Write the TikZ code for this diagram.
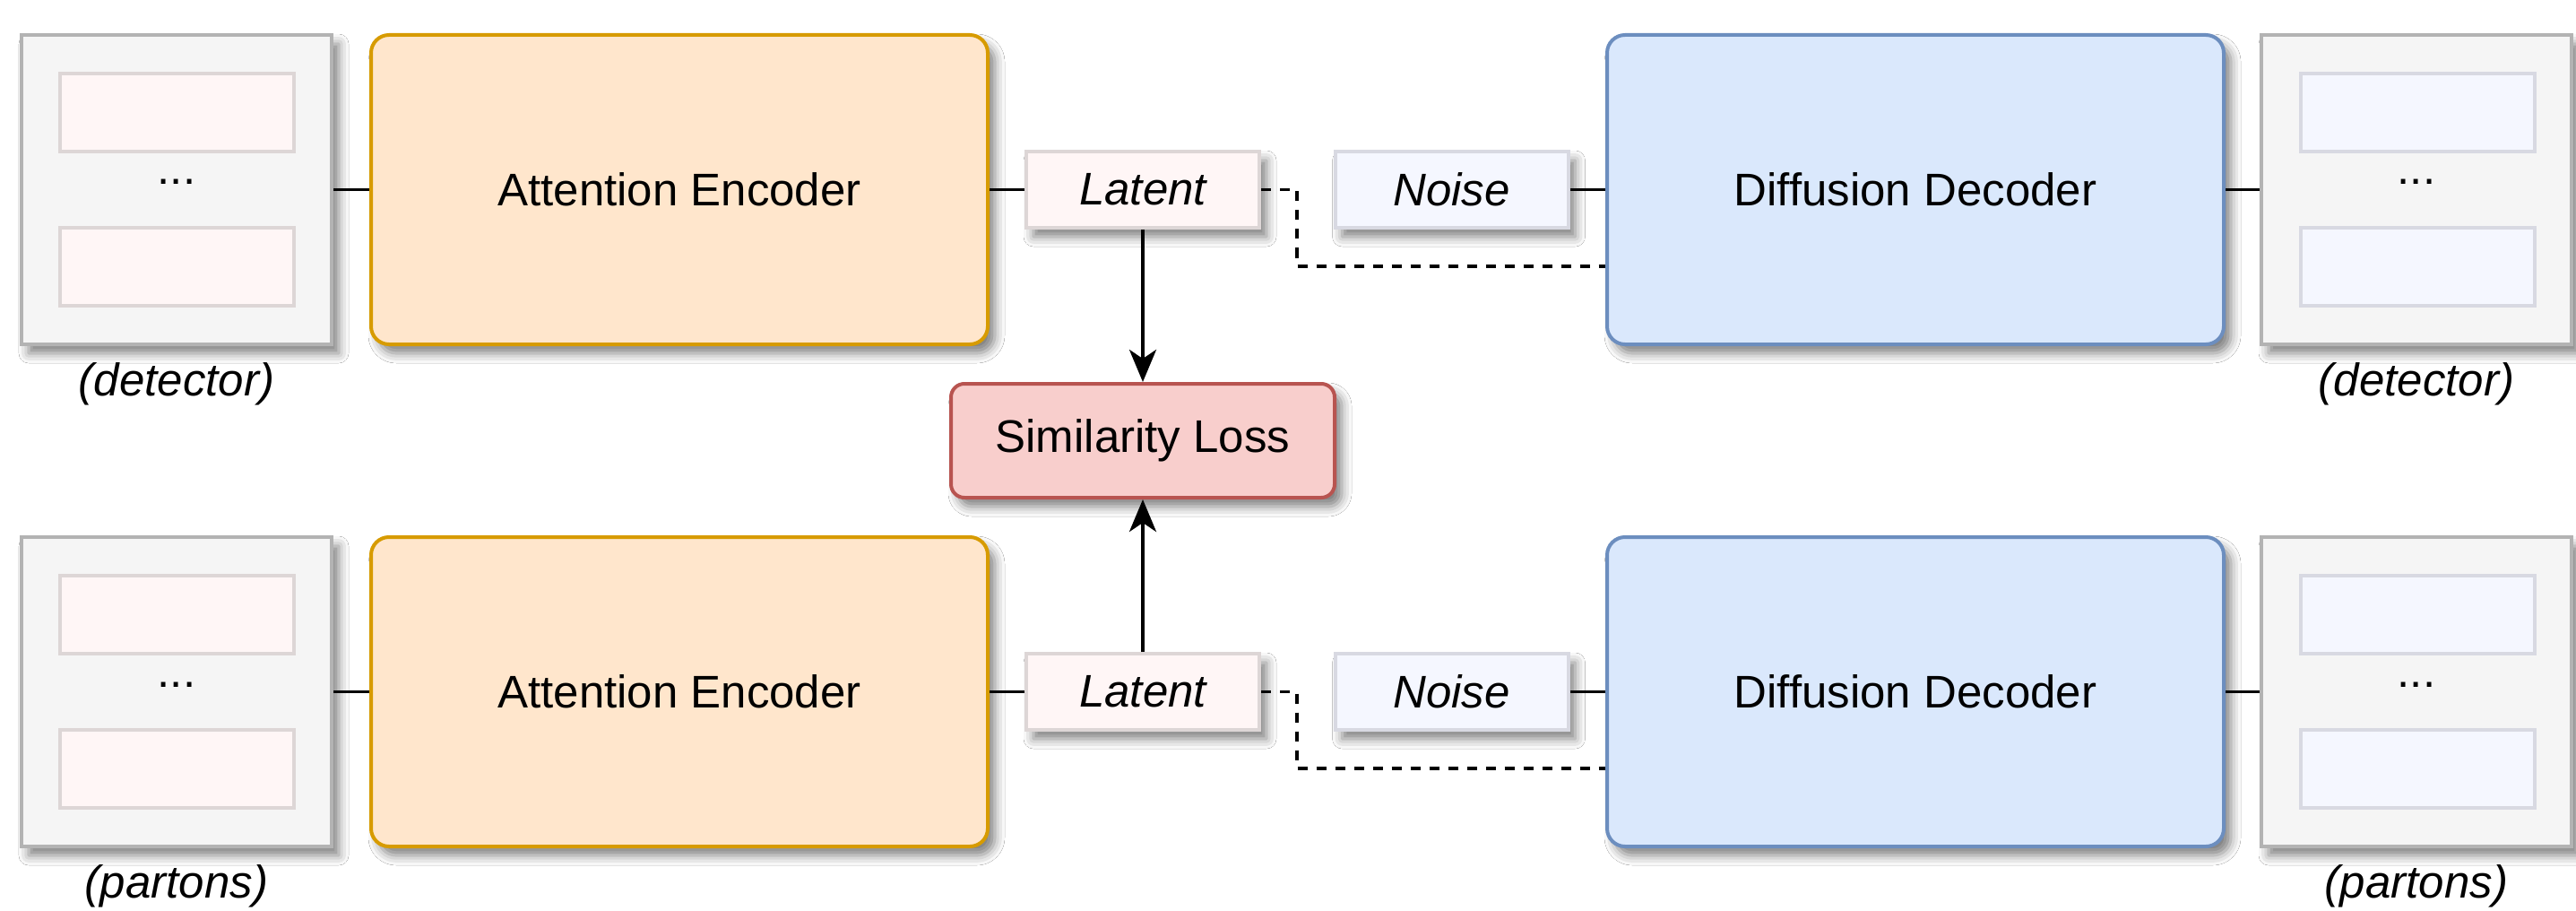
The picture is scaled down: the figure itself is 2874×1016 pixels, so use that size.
\documentclass[tikz,border=0pt]{standalone}
\usepackage{fontspec}
\setmainfont{Liberation Sans}
\usetikzlibrary{arrows.meta,shadows.blur}
\definecolor{boxfill}{HTML}{F5F5F5}
\definecolor{boxdraw}{HTML}{B3B3B3}
\definecolor{pinkfill}{HTML}{FFF6F6}
\definecolor{pinkdraw}{HTML}{DDD6D6}
\definecolor{bluefill}{HTML}{F5F7FF}
\definecolor{bluedraw}{HTML}{D8D9E2}
\definecolor{encfill}{HTML}{FFE6CC}
\definecolor{encdraw}{HTML}{D79B00}
\definecolor{decfill}{HTML}{DAE8FC}
\definecolor{decdraw}{HTML}{6C8EBF}
\definecolor{lossfill}{HTML}{F8CECC}
\definecolor{lossdraw}{HTML}{B85450}
\definecolor{shadowc}{HTML}{6A7098}
\begin{document}
\begin{tikzpicture}[x=1pt,y=-1pt,
  every node/.style={font=\fontsize{51}{60}\selectfont, inner sep=0pt, text=black},
  shad/.style={blur shadow={shadow xshift=8pt,shadow yshift=-10pt,shadow blur radius=11pt,shadow opacity=50, fill=shadowc}},
  outerbox/.style={shad, draw=boxdraw, fill=boxfill, line width=4pt, minimum width=346pt, minimum height=345pt},
  innerpink/.style={draw=pinkdraw, fill=pinkfill, line width=4pt, minimum width=261pt, minimum height=87pt},
  innerblue/.style={draw=bluedraw, fill=bluefill, line width=4pt, minimum width=261pt, minimum height=87pt},
  encbox/.style={shad, draw=encdraw, fill=encfill, line width=4pt, rounded corners=20pt, minimum width=688pt, minimum height=345pt},
  decbox/.style={shad, draw=decdraw, fill=decfill, line width=4pt, rounded corners=20pt, minimum width=688pt, minimum height=345pt},
  latbox/.style={shad, draw=pinkdraw, fill=pinkfill, line width=4pt, minimum width=260pt, minimum height=85pt, font=\fontsize{51}{60}\selectfont\itshape},
  noisebox/.style={shad, draw=bluedraw, fill=bluefill, line width=4pt, minimum width=260pt, minimum height=85pt, font=\fontsize{51}{60}\selectfont\itshape},
  lossbox/.style={shad, draw=lossdraw, fill=lossfill, line width=4pt, rounded corners=15pt, minimum width=428pt, minimum height=127pt},
  lbl/.style={anchor=base, font=\fontsize{51}{60}\selectfont\itshape},
  conn/.style={draw=black, line width=3.8pt},
  dconn/.style={draw=black, line width=3.8pt, dash pattern=on 11pt off 10pt},
  arr/.style={draw=black, line width=3.8pt, -{Stealth[length=36pt, width=30pt, inset=10pt]}}
]
\useasboundingbox (0,0) rectangle (2874,1016);
\fill[white] (0,0) rectangle (2874,1016);

% ---------- top row ----------
\node[outerbox] (dL1) at (197,211.5) {};
\node[innerpink] (dL1a) at (197.5,125.5) {};
\node[innerpink] (dL1b) at (197.5,297.5) {};
\node[anchor=base] (dL1d) at (197,206) {...};
\node[lbl] (tL1) at (197,441) {(detector)};

\node[encbox] (enc1) at (758,211.5) {Attention Encoder};
\node[latbox] (lat1) at (1275,211.5) {Latent};
\node[noisebox] (noi1) at (1619.5,211.5) {Noise};
\node[decbox] (dec1) at (2137,211.5) {Diffusion Decoder};

\node[outerbox] (dR1) at (2696,211.5) {};
\node[innerblue] (dR1a) at (2697.5,125.5) {};
\node[innerblue] (dR1b) at (2697.5,297.5) {};
\node[anchor=base] (dR1d) at (2696,206) {...};
\node[lbl] (tR1) at (2696,441) {(detector)};

% ---------- loss ----------
\node[lossbox] (loss) at (1275,491.5) {Similarity Loss};

% ---------- bottom row ----------
\node[outerbox] (dL2) at (197,771.5) {};
\node[innerpink] (dL2a) at (197.5,685.5) {};
\node[innerpink] (dL2b) at (197.5,857.5) {};
\node[anchor=base] (dL2d) at (197,766) {...};
\node[lbl] (tL2) at (197,1001) {(partons)};

\node[encbox] (enc2) at (758,771.5) {Attention Encoder};
\node[latbox] (lat2) at (1275,771.5) {Latent};
\node[noisebox] (noi2) at (1619.5,771.5) {Noise};
\node[decbox] (dec2) at (2137,771.5) {Diffusion Decoder};

\node[outerbox] (dR2) at (2696,771.5) {};
\node[innerblue] (dR2a) at (2697.5,685.5) {};
\node[innerblue] (dR2b) at (2697.5,857.5) {};
\node[anchor=base] (dR2d) at (2696,766) {...};
\node[lbl] (tR2) at (2696,1001) {(partons)};

% ---------- connectors ----------
\coordinate (k1) at (1447,297);
\coordinate (k2) at (1447,857);

\draw[conn] (dL1.east) -- (enc1.west);
\draw[conn] (enc1.east) -- (lat1.west);
\draw[conn] (noi1.east) -- (dec1.west);
\draw[conn] (dec1.east) -- (dR1.west);
\draw[dconn] (lat1.east) -| (k1) -- (dec1.west |- k1);

\draw[conn] (dL2.east) -- (enc2.west);
\draw[conn] (enc2.east) -- (lat2.west);
\draw[conn] (noi2.east) -- (dec2.west);
\draw[conn] (dec2.east) -- (dR2.west);
\draw[dconn] (lat2.east) -| (k2) -- (dec2.west |- k2);

\draw[arr] (lat1.south) -- (loss.north);
\draw[arr] (lat2.north) -- (loss.south);
\end{tikzpicture}
\end{document}
